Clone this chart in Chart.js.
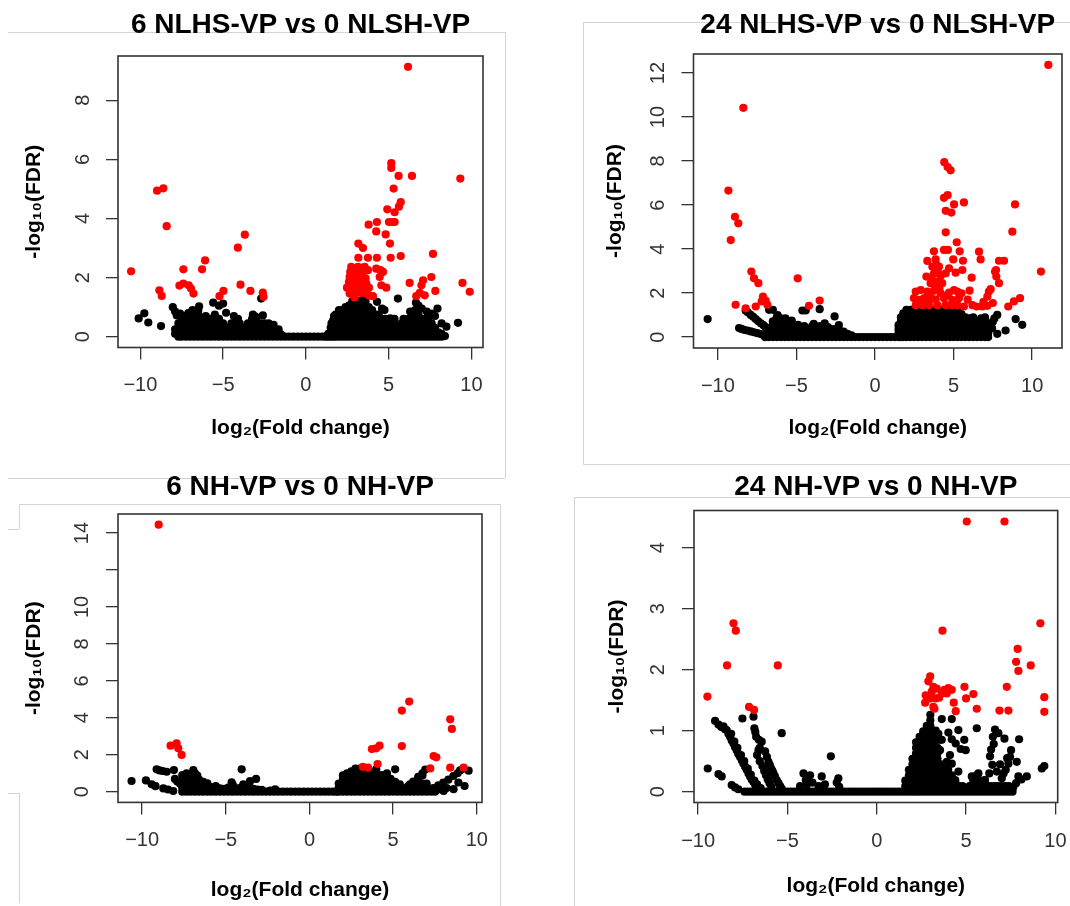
<!DOCTYPE html>
<html><head><meta charset="utf-8">
<script src="https://cdn.jsdelivr.net/npm/chart.js@4.4.1/dist/chart.umd.min.js"></script>
<style>
html,body{margin:0;padding:0;background:#fff;}
body{width:1070px;height:906px;position:relative;overflow:hidden;}
canvas{position:absolute;}
.ln{position:absolute;background:#d4d4d4;}
</style></head><body>
<canvas id="c1" width="535" height="460" style="left:0px;top:0px"></canvas>
<canvas id="c2" width="535" height="460" style="left:535px;top:0px"></canvas>
<canvas id="c3" width="535" height="446" style="left:0px;top:460px"></canvas>
<canvas id="c4" width="535" height="446" style="left:535px;top:460px"></canvas>
<script>
// ---------------- DATA ----------------
const titles = ['6 NLHS-VP vs 0 NLSH-VP', '24 NLHS-VP vs 0 NLSH-VP', '6 NH-VP vs 0 NH-VP', '24 NH-VP vs 0 NH-VP'];
const xAxisTitle = 'log\u2082(Fold change)';
const yAxisTitle = '-log\u2081\u2080(FDR)';
const xTicks = [-10, -5, 0, 5, 10];
const p1YTicks = [0, 2, 4, 6, 8];
const p2YTicks = [0, 2, 4, 6, 8, 10, 12];
const p3YTicks = [0, 2, 4, 6, 8, 10, 12, 14];
const p3YLabels = ['0', '2', '4', '6', '8', '10', '', '14'];
const p4YTicks = [0, 1, 2, 3, 4];

// Panel 1 : 6 NLHS-VP vs 0 NLSH-VP
const p1Red = [[6.17,9.13],[5.16,5.87],[5.16,5.71],[5.6,5.44],[6.41,5.44],[9.33,5.35],[5.3,5.01],[5.73,4.55],[5.62,4.4],[4.92,4.31],[5.36,4.21],[5.02,3.88],[5.22,3.88],[5.36,3.88],[3.79,3.79],[4.29,3.88],[4.25,3.56],[4.82,3.46],[5.08,3.15],[3.17,3.15],[3.45,3.0],[3.17,2.67],[3.75,2.67],[4.29,2.67],[5.12,2.67],[5.73,2.73],[7.68,2.8],
[2.74,2.36],[3.15,2.36],[3.55,2.36],[2.68,2.19],[3.04,2.16],[3.41,2.16],[3.75,2.25],[2.64,2.02],[2.94,2.02],[3.25,1.97],[3.61,1.97],[2.6,1.85],[2.94,1.82],[3.29,1.8],[3.65,1.8],[2.48,1.66],[2.8,1.63],[3.15,1.63],[3.49,1.63],[3.81,1.66],[2.64,1.46],[3.0,1.46],[3.35,1.48],[3.69,1.46],[4.05,1.37],[2.94,1.33],[3.83,1.39],
[4.25,2.3],[4.5,2.25],[4.66,2.19],[4.46,2.02],[4.56,1.74],[4.86,1.66],[6.27,1.82],[7.08,1.91],[6.98,1.74],[7.58,2.02],[7.82,1.55],[6.67,1.37],[6.88,1.48],[7.18,1.4],[9.46,1.82],[9.9,1.52],
[-10.56,2.21],[-8.99,4.94],[-8.61,5.02],[-8.41,3.74],[-8.85,1.57],[-8.71,1.38],[-7.4,2.28],[-7.64,1.73],[-7.4,1.8],[-7.08,1.74],[-6.94,1.63],[-6.79,1.46],[-6.27,2.28],[-6.09,2.58],[-4.11,3.01],[-3.69,3.45],[-3.95,1.76],[-3.35,1.55],[-5.22,1.37],[-4.98,1.55],[-2.6,1.49],[-2.56,1.35]];
const p1Black = [[-10.1,0.62],[-9.76,0.79],[-9.52,0.48],[-8.75,0.36],[-8.04,1.0],[-7.9,0.85],[-7.8,0.72],[-7.6,0.78],[-7.35,0.7],[-7.1,0.8],[-6.85,0.9],[-6.45,1.03],[-6.6,0.85],[-6.05,0.7],[-5.85,0.6],[-5.6,1.15],[-5.25,1.05],[-5.0,1.12],[-4.82,0.81],[-4.35,0.7],[-4.1,0.6],[-3.2,0.75],[-3.05,0.68],[-2.6,0.72],[-2.7,1.29],[-2.25,0.45],[-1.95,0.4],[-1.65,0.25],
[5.56,1.29],[4.3,1.18],[4.6,0.95],[4.75,0.9],[5.1,0.62],[5.35,0.6],[5.9,0.6],[6.3,0.85],[6.65,1.15],[6.8,1.05],[7.0,0.95],[7.3,0.85],[7.6,0.78],[7.95,0.95],[7.8,0.7],[8.2,0.45],[8.49,0.34],[9.19,0.47],[1.55,0.45],[1.7,0.7]];
const p1Cols = [[-7.9,[0.1,0.25]],[-7.7,[0,0.15,0.3,0.45]],[-7.5,[0,0.15,0.3,0.45,0.6]],[-7.25,[0,0.15,0.3,0.45]],[-7.0,[0,0.15,0.3,0.45,0.6]],[-6.75,[0,0.15,0.3,0.45,0.6,0.75]],[-6.5,[0,0.15,0.3,0.45,0.6,0.75,0.9]],[-6.25,[0,0.15,0.3,0.45,0.6]],[-6.0,[0,0.15,0.3,0.45,0.6]],[-5.75,[0,0.15,0.3,0.45]],[-5.5,[0,0.15,0.3,0.45,0.6,0.75]],[-5.25,[0,0.15,0.3,0.45,0.6]],[-5.0,[0,0.15,0.3,0.45]],[-4.75,[0,0.15,0.3]],[-4.5,[0,0.15,0.3,0.45]],[-4.25,[0,0.15,0.3,0.45,0.6]],[-4.0,[0,0.15,0.3,0.45]],[-3.75,[0,0.15,0.3]],[-3.5,[0,0.15,0.3,0.45]],[-3.25,[0,0.15,0.3,0.45,0.6]],[-3.0,[0,0.15,0.3,0.45,0.6]],[-2.75,[0,0.15,0.3,0.45]],[-2.5,[0,0.15,0.3,0.45]],[-2.25,[0,0.15,0.3]],[-2.0,[0,0.15,0.3]],[-1.75,[0,0.15]],[-1.5,[0,0.08]],
[1.35,[0,0.1]],[1.5,[0,0.15,0.3]],[1.65,[0,0.15,0.3,0.45,0.55]],[1.8,[0,0.15,0.3,0.45,0.6,0.75]],[2.0,[0,0.15,0.3,0.45,0.6,0.75,0.9]],[2.2,[0,0.15,0.3,0.45,0.6,0.75,0.9]],[2.4,[0,0.15,0.3,0.45,0.6,0.75,0.9,1.0]],[2.6,[0,0.15,0.3,0.45,0.6,0.75,0.9,1.05]],[2.8,[0,0.15,0.3,0.45,0.6,0.75,0.9,1.05,1.2]],[3.0,[0,0.15,0.3,0.45,0.6,0.75,0.9,1.05,1.2]],[3.2,[0,0.15,0.3,0.45,0.6,0.75,0.9,1.05,1.2]],[3.4,[0,0.15,0.3,0.45,0.6,0.75,0.9,1.05,1.25]],[3.6,[0,0.15,0.3,0.45,0.6,0.75,0.9,1.05,1.2]],[3.8,[0,0.15,0.3,0.45,0.6,0.75,0.9,1.0]],[4.0,[0,0.15,0.3,0.45,0.6,0.75,0.9]],[4.2,[0,0.15,0.3,0.45,0.6,0.75]],[4.4,[0,0.15,0.3,0.45,0.6,0.75]],[4.6,[0,0.15,0.3,0.45,0.6]],[4.8,[0,0.15,0.3,0.45,0.6]],[5.0,[0,0.15,0.3,0.45]],[5.2,[0,0.15,0.3,0.45]],[5.4,[0,0.15,0.3,0.45]],[5.6,[0,0.15,0.3]],[5.8,[0,0.15,0.3,0.45]],[6.0,[0,0.15,0.3,0.45]],[6.2,[0,0.15,0.3,0.45,0.6]],[6.4,[0,0.15,0.3,0.45,0.6,0.75]],[6.6,[0,0.15,0.3,0.45,0.6,0.75,0.9]],[6.8,[0,0.15,0.3,0.45,0.6,0.75]],[7.0,[0,0.15,0.3,0.45,0.6]],[7.2,[0,0.15,0.3,0.45,0.6]],[7.4,[0,0.15,0.3,0.45,0.6]],[7.6,[0,0.15,0.3,0.45]],[7.8,[0,0.15,0.3]],[8.0,[0,0.15]],[8.2,[0,0.1]],[8.4,[0.02]]];
const p1Base = [-1.25,-1.0,-0.75,-0.5,-0.25,0,0.25,0.5,0.75,1.0,1.2];

// Panel 2 : 24 NLHS-VP vs 0 NLSH-VP
const p2Red = [[11.03,12.37],[-8.38,10.42],[-9.33,6.66],[-8.91,5.47],[-8.7,5.17],[-9.18,4.41],[-7.87,2.98],[-7.7,2.67],[-7.42,2.45],[-8.87,1.47],[-8.23,1.31],[-7.59,1.39],[-7.13,1.84],[-6.96,1.66],[-7.21,1.62],[-6.85,1.47],[-4.92,2.67],[-4.2,1.42],[-3.52,1.66],
[4.41,7.95],[4.62,7.73],[4.81,7.58],[4.39,6.33],[4.62,6.45],[5.03,6.03],[5.66,6.12],[4.5,5.74],[4.86,5.66],[4.5,4.76],[5.2,4.31],[3.75,3.9],[4.39,3.96],[4.64,3.96],[5.39,3.9],[3.33,3.46],[3.86,3.53],[4.98,3.53],[5.6,3.47],[3.65,3.2],[4.07,3.2],[4.71,3.13],[5.56,3.05],[3.27,2.75],[3.75,2.87],[4.18,2.78],[4.5,2.9],[5.13,2.93],[3.54,2.45],[3.97,2.52],[4.28,2.45],[5.03,2.14],
[2.59,2.07],[2.91,2.14],[3.33,2.07],[3.75,2.11],[4.18,1.99],[4.71,2.02],[5.24,2.07],[5.51,1.99],[2.48,1.77],[2.8,1.69],[3.12,1.77],[3.44,1.66],[3.86,1.72],[4.39,1.77],[4.92,1.69],[5.34,1.77],[5.66,1.39],[2.59,1.45],[3.01,1.45],[3.44,1.45],[3.97,1.45],[4.5,1.45],[4.92,1.45],[5.24,1.45],
[3.9,3.3],[4.0,2.95],[3.6,2.6],[3.85,2.3],[4.1,2.2],[3.5,1.9],[4.6,1.9],[5.9,1.7],[6.2,1.45],[7.5,1.55],[7.7,3.05],[6.9,1.6],
[6.15,2.7],[6.02,2.11],[6.62,3.88],[6.72,3.53],[7.89,3.47],[8.21,3.47],[7.64,2.98],[7.72,2.75],[7.89,2.45],[7.36,2.18],[7.15,1.84],[7.25,2.07],[6.47,1.39],[6.83,1.39],[7.15,1.42],[8.48,1.39],[8.84,1.62],[9.23,1.77],[8.74,4.79],[8.91,6.03],[10.56,2.98]];
const p2Black = [[-10.65,0.82],[-6.74,1.24],[-6.5,1.24],[-6.2,1.0],[-5.7,0.85],[-4.62,1.21],[-4.41,1.21],[-3.52,1.27],[-4.9,0.56],[-2.57,0.94],[-5.3,0.75],[-3.9,0.6],[-3.2,0.62],[-2.3,0.55],
[-8.23,1.21],[-8.1,1.13],[-7.91,1.01],[-7.75,0.92],[-7.59,0.82],[-7.43,0.72],[-7.27,0.63],[-7.1,0.54],[-6.96,0.45],[-6.8,0.35],[-6.64,0.26],
[-8.65,0.41],[-8.5,0.37],[-8.34,0.33],[-8.12,0.3],[-7.91,0.26],[-7.7,0.22],[-7.49,0.18],[-7.27,0.14],[-7.06,0.11],
[7.5,0.7],[7.78,1.01],[7.6,0.85],[8.95,0.82],[9.37,0.56],[8.31,0.3],[7.78,0.15],[7.45,0.4]];
const p2Cols = [[-7.0,[0,0.1]],[-6.75,[0,0.18,0.3]],[-6.5,[0,0.18,0.36,0.54,0.72]],[-6.25,[0,0.18,0.36,0.54,0.72,0.9]],[-6.0,[0,0.18,0.36,0.54,0.72,0.85]],[-5.75,[0,0.18,0.36,0.54,0.7]],[-5.5,[0,0.18,0.36,0.54,0.65]],[-5.25,[0,0.18,0.36,0.54]],[-5.0,[0,0.18,0.36,0.5]],[-4.75,[0,0.18,0.36]],[-4.5,[0,0.18,0.36,0.5]],[-4.25,[0,0.18,0.36]],[-4.0,[0,0.18,0.36,0.5]],[-3.75,[0,0.18,0.36]],[-3.5,[0,0.18,0.36,0.5]],[-3.25,[0,0.18,0.36]],[-3.0,[0,0.18,0.36,0.45]],[-2.75,[0,0.18,0.36]],[-2.5,[0,0.18,0.36]],[-2.25,[0,0.18,0.3]],[-2.0,[0,0.18,0.25]],[-1.75,[0,0.15]],[-1.5,[0,0.08]],
[1.5,[0,0.18,0.36,0.54]],[1.65,[0,0.18,0.36,0.54,0.72,0.9]],[1.8,[0,0.18,0.36,0.54,0.72,0.9,1.08]],[2.0,[0,0.18,0.36,0.54,0.72,0.9,1.08,1.24]],[2.25,[0,0.18,0.36,0.54,0.72,0.9,1.08,1.24]],[2.5,[0,0.18,0.36,0.54,0.72,0.9,1.08,1.24]],[2.75,[0,0.18,0.36,0.54,0.72,0.9,1.08,1.24]],[3.0,[0,0.18,0.36,0.54,0.72,0.9,1.08,1.24]],[3.25,[0,0.18,0.36,0.54,0.72,0.9,1.08,1.24]],[3.5,[0,0.18,0.36,0.54,0.72,0.9,1.08,1.24]],[3.75,[0,0.18,0.36,0.54,0.72,0.9,1.08,1.24]],[4.0,[0,0.18,0.36,0.54,0.72,0.9,1.08,1.24]],[4.25,[0,0.18,0.36,0.54,0.72,0.9,1.08,1.24]],[4.5,[0,0.18,0.36,0.54,0.72,0.9,1.08,1.24]],[4.75,[0,0.18,0.36,0.54,0.72,0.9,1.08,1.24]],[5.0,[0,0.18,0.36,0.54,0.72,0.9,1.08,1.24]],[5.25,[0,0.18,0.36,0.54,0.72,0.9,1.08,1.2]],[5.5,[0,0.18,0.36,0.54,0.72,0.9,1.05]],[5.75,[0,0.18,0.36,0.54,0.72,0.9]],[6.0,[0,0.18,0.36,0.54,0.72,0.85]],[6.25,[0,0.18,0.36,0.54,0.72,0.9]],[6.5,[0,0.18,0.36,0.54,0.72]],[6.75,[0,0.18,0.36,0.54,0.72,0.85]],[7.0,[0,0.18,0.36,0.54,0.72,0.9]],[7.2,[0,0.18,0.36,0.54]]];
const p2Base = [-1.25,-1.0,-0.75,-0.5,-0.25,0,0.25,0.5,0.75,1.0,1.25];

// Panel 3 : 6 NH-VP vs 0 NH-VP
const p3Red = [[-9.01,14.45],[-8.3,2.49],[-7.94,2.62],[-7.84,2.35],[-7.64,1.99],[3.73,2.31],[3.99,2.35],[4.19,2.49],[4.07,1.5],[5.52,4.39],[5.96,4.88],[5.52,2.47],[7.42,1.93],[7.58,1.86],[8.41,3.92],[8.51,3.4],[7.22,1.26],[8.41,1.3],[9.21,1.3],[3.19,1.35],[3.5,1.3]];
const p3Black = [[-10.63,0.58],[-9.77,0.61],[-9.43,0.4],[-9.2,0.3],[-8.73,0.18],[-8.45,0.12],[-8.14,0.04],[-9.13,1.21],[-8.95,1.15],[-8.77,1.12],[-8.53,1.08],[-8.1,1.17],
[-8.04,0.69],[-7.9,0.55],[-7.74,0.45],[-7.6,0.9],[-7.44,0.36],[-7.34,0.99],[-6.94,1.17],[-6.84,0.99],[-6.7,0.87],[-6.34,0.54],[-6.1,0.45],[-5.94,0.27],[-5.6,0.3],
[-4.65,0.51],[-4.51,0.27],[-4.05,1.21],[-3.95,0.4],[-3.55,0.58],[-3.19,0.69],[-2.05,0.13],
[3.99,1.21],[5.12,1.21],[4.63,0.99],[5.12,0.54],[4.3,0.9],[4.85,0.7],[5.4,0.4],
[5.6,0.1],[5.9,0.3],[6.2,0.55],[6.5,0.8],[6.75,1.0],[6.92,1.2],
[7.4,0.2],[7.7,0.35],[8.0,0.5],[8.3,0.65],[8.6,0.85],[8.85,1.0],[9.0,1.15],[9.2,1.25],
[9.51,1.14],[9.27,0.31],[8.61,0.14],[8.02,0.04],[7.6,0.1],[7.85,0.12],[8.2,0.2],[8.9,0.5]];
const p3Cols = [[-7.6,[0,0.22,0.44,0.66]],[-7.35,[0,0.22,0.44,0.66,0.85]],[-7.1,[0,0.22,0.44,0.66,0.88]],[-6.85,[0,0.22,0.44,0.66]],[-6.6,[0,0.22,0.44,0.66]],[-6.35,[0,0.22,0.44]],[-6.1,[0,0.22,0.35]],[-5.85,[0,0.22]],[-5.6,[0,0.2]],[-5.35,[0,0.18]],[-5.1,[0,0.15]],[-4.85,[0,0.22]],[-4.6,[0,0.2,0.4]],[-4.35,[0,0.15]],[-4.1,[0,0.22]],[-3.85,[0,0.18]],[-3.6,[0,0.22,0.44]],[-3.35,[0,0.15]],[-3.1,[0,0.12]],[-2.85,[0,0.1]],[-2.6,[0]],[-2.35,[0,0.06]],[-2.1,[0]],
[1.75,[0,0.22,0.44]],[2.0,[0,0.22,0.44,0.66,0.88]],[2.25,[0,0.22,0.44,0.66,0.88,1.0]],[2.5,[0,0.22,0.44,0.66,0.88,1.1]],[2.75,[0,0.22,0.44,0.66,0.88,1.1,1.25]],[3.0,[0,0.22,0.44,0.66,0.88,1.1,1.25]],[3.25,[0,0.22,0.44,0.66,0.88,1.1,1.25]],[3.5,[0,0.22,0.44,0.66,0.88,1.1,1.2]],[3.75,[0,0.22,0.44,0.66,0.88,1.0]],[4.0,[0,0.22,0.44,0.66,0.88]],[4.25,[0,0.22,0.44,0.66]],[4.5,[0,0.22,0.44,0.66,0.88]],[4.75,[0,0.22,0.44]],[5.0,[0,0.22,0.44]],[5.25,[0,0.22]],[5.5,[0,0.15]],[5.75,[0,0.2]],[6.0,[0,0.22,0.4]],[6.25,[0,0.22,0.5]],[6.5,[0,0.22,0.44,0.7]],[6.75,[0,0.22,0.44,0.88]],[7.0,[0,0.22,0.44]],[7.25,[0,0.15]],[7.5,[0]]];
const p3Base = [-1.85,-1.6,-1.35,-1.1,-0.85,-0.6,-0.35,-0.1,0.15,0.4,0.65,0.9,1.15,1.4,1.6];

// Panel 4 : 24 NH-VP vs 0 NH-VP
const p4Red = [[5.04,4.43],[7.15,4.43],[-8.02,2.76],[-7.89,2.64],[-8.38,2.07],[-5.54,2.07],[-9.48,1.56],[-7.15,1.39],[-6.87,1.34],[3.68,2.64],[9.16,2.76],[7.89,2.34],[7.8,2.13],[7.93,1.98],[8.62,2.07],[7.28,1.72],[6.87,1.33],[7.37,1.33],[9.38,1.55],[9.38,1.31],[4.91,1.72],[5.0,1.53],[5.41,1.6],[5.6,1.36],[4.31,1.46],[4.42,1.32],
[2.99,1.89],[2.89,1.81],[3.17,1.72],[3.36,1.69],[2.74,1.58],[3.08,1.64],[3.3,1.53],[3.49,1.54],[3.64,1.61],[3.79,1.67],[4.01,1.7],[4.2,1.67],[2.71,1.46],[2.99,1.53],[3.17,1.39],[3.92,1.61],[3.23,1.36]];
const p4Black = [[-9.05,1.16],[-8.86,1.1],[-8.7,1.06],[-8.58,1.07],[-8.48,1.02],[-8.4,1.01],[-8.3,0.95],[-8.21,0.9],[-8.12,0.84],[-8.02,0.79],[-7.93,0.73],[-7.84,0.68],[-7.75,0.62],[-7.65,0.57],[-7.55,0.51],[-7.46,0.46],[-7.37,0.41],[-7.28,0.36],[-7.18,0.3],[-7.09,0.25],[-7.0,0.2],[-6.9,0.16],[-6.8,0.11],[-6.72,0.08],[-6.62,0.04],
[-8.15,0.95],[-7.97,0.82],[-7.8,0.72],[-7.6,0.6],[-7.42,0.5],[-7.22,0.38],[-7.05,0.28],[-6.85,0.18],[-6.7,0.12],[-6.5,0.06],
[-7.52,1.2],[-6.9,1.23],[-6.85,1.04],[-6.8,0.98],[-6.75,0.9],[-6.6,0.85],[-6.44,0.82],[-6.62,0.68],[-6.55,0.72],[-6.25,0.66],[-6.15,0.57],[-6.06,0.49],[-5.98,0.43],[-5.91,0.38],[-5.84,0.34],[-5.78,0.3],[-5.7,0.25],[-5.6,0.19],[-5.5,0.14],[-5.41,0.09],[-5.32,0.05],
[-6.7,0.6],[-6.55,0.5],[-6.4,0.42],[-6.3,0.34],[-6.2,0.27],[-6.1,0.2],[-6.0,0.14],[-5.9,0.08],
[-5.32,0.96],[-9.46,0.38],[-8.86,0.29],[-8.68,0.25],[-8.12,0.11],[-7.93,0.07],[-7.75,0.04],[-4.1,0.3],[-3.73,0.27],[-3.97,0.19],[-3.08,0.25],[-2.57,0.58],[-2.15,0.22],[-2.24,0.15],[-4.29,0.09],[-3.26,0.09],[-3.9,0.12],[-3.6,0.15],[-2.1,0.08],[-2.9,0.12],
[3.64,1.19],[4.2,1.19],[4.01,0.97],[4.57,1.01],[4.2,0.86],[4.42,0.79],[4.98,0.68],[5.6,1.04],[3.64,0.85],[3.54,0.68],[3.92,0.49],[4.2,0.46],[4.57,0.33],[3.82,0.36],[4.38,0.19],[5.32,0.25],[5.69,0.3],[5.5,0.16],[6.06,0.19],
[6.62,1.02],[6.81,0.96],[7.15,0.87],[7.97,0.86],[6.4,0.69],[6.34,0.58],[6.47,0.44],[6.72,0.33],[7.0,0.22],[7.22,0.36],[7.37,0.46],[7.46,0.57],[7.52,0.68],[7.84,0.49],[7.93,0.25],[8.4,0.25],[9.24,0.38],[9.38,0.42],[7.65,0.08],
[3.3,1.0],[3.5,0.85],[3.45,0.95],[4.1,0.6],[4.9,0.85],[4.7,0.7],[6.5,0.9],[6.55,0.78],[6.3,0.3],[6.9,0.45],[7.1,0.3],[7.3,0.55],[8.1,0.2],[7.8,0.14]];
const p4Cols = [[1.6,[0,0.09,0.18]],[1.8,[0,0.09,0.18,0.27,0.36]],[2.0,[0,0.09,0.18,0.27,0.36,0.45,0.54]],[2.2,[0,0.09,0.18,0.27,0.36,0.45,0.54,0.63,0.72,0.81]],[2.4,[0,0.09,0.18,0.27,0.36,0.45,0.54,0.63,0.72,0.81,0.9]],[2.6,[0,0.09,0.18,0.27,0.36,0.45,0.54,0.63,0.72,0.81,0.9,0.99]],[2.8,[0,0.09,0.18,0.27,0.36,0.45,0.54,0.63,0.72,0.81,0.9,0.99,1.08]],[3.0,[0,0.09,0.18,0.27,0.36,0.45,0.54,0.63,0.72,0.81,0.9,0.99,1.08,1.17,1.26]],[3.2,[0,0.09,0.18,0.27,0.36,0.45,0.54,0.63,0.72,0.81,0.9]],[3.4,[0,0.09,0.18,0.27,0.36,0.45,0.54,0.63,0.72]],[3.6,[0,0.09,0.18,0.27,0.36,0.45]],[3.8,[0,0.09,0.18,0.27,0.36]],[4.0,[0,0.09,0.18,0.27,0.36,0.45]],[4.2,[0,0.09,0.18,0.27]],[4.4,[0,0.09,0.18]],[4.6,[0,0.09]],[4.8,[0,0.09]],[5.0,[0]],[5.2,[0,0.09]],[5.4,[0,0.09,0.18]],[5.6,[0,0.09,0.18,0.27]],[5.8,[0,0.09,0.18]],[6.0,[0,0.09,0.18]],[6.2,[0,0.09]],[6.4,[0,0.09]],[6.6,[0,0.09]],[6.8,[0,0.09]],[7.0,[0,0.09]],[7.2,[0,0.09]],[7.4,[0,0.09]],[7.6,[0,0.05]]];
const p4Base = [-7.4,-7.2,-7.0,-6.8,-6.6,-6.4,-6.2,-6.0,-5.8,-5.6,-5.4,-5.2,-5.0,-4.8,-4.6,-4.4,-4.2,-4.0,-3.8,-3.6,-3.4,-3.2,-3.0,-2.8,-2.6,-2.4,-2.2,-2.0,-1.8,-1.6,-1.4,-1.2,-1.0,-0.8,-0.6,-0.4,-0.2,0,0.2,0.4,0.6,0.8,1.0,1.2,1.4];

// ---------------- LAYOUT (not data) ----------------
const FONT = "'Liberation Sans', Arial, Helvetica, sans-serif";
const frameLines = [[8,32,505,32],[505,32,505,478],[8,478,505,478],
  [583,22,1070,22],[583,22,583,464],[583,464,1070,464],
  [19,504,500,504],[500,504,500,906],[19,504,19,529],[8,529,19,529],[8,793,19,793],[19,793,19,903],
  [574,497,1070,497],[574,497,574,906]];
frameLines.forEach(([x1,y1,x2,y2]) => {
  const d = document.createElement('div');
  d.className = 'ln';
  d.style.left = x1 + 'px'; d.style.top = y1 + 'px';
  d.style.width = Math.max(1, x2 - x1) + 'px'; d.style.height = Math.max(1, y2 - y1) + 'px';
  document.body.insertBefore(d, document.body.firstChild);
});

const boxPlugin = {
  id: 'rBox',
  afterDraw(chart) {
    const {ctx, chartArea: a} = chart;
    ctx.save();
    ctx.strokeStyle = '#333';
    ctx.lineWidth = 1.6;
    ctx.strokeRect(a.left, a.top, a.right - a.left, a.bottom - a.top);
    ctx.restore();
  }
};

const fmtX = v => (v < 0 ? '\u2212' + Math.abs(v) : String(v));
const R = 4.1;

function makePanel(id, title, red, black, cols, base, yTicks, yLabels, L) {
  const blackPts = black.map(([x, y]) => ({x, y}))
    .concat(cols.flatMap(([x, ys]) => ys.map(y => ({x, y}))))
    .concat(base.map(x => ({x, y: 0})));
  const redPts = red.map(([x, y]) => ({x, y}));
  return new Chart(document.getElementById(id), {
    type: 'scatter',
    data: {datasets: [
      {label: 'FDR significant', data: redPts, backgroundColor: '#ff0000', pointRadius: R, pointBorderWidth: 0, pointHoverRadius: R, order: 0},
      {label: 'not significant', data: blackPts, backgroundColor: '#000000', pointRadius: R, pointBorderWidth: 0, pointHoverRadius: R, order: 1}
    ]},
    options: {
      responsive: false, animation: false, devicePixelRatio: 1, events: [],
      layout: {padding: {left: L.padL, right: L.padR, top: 0, bottom: L.padB}},
      plugins: {
        legend: {display: false}, tooltip: {enabled: false},
        title: {display: true, text: title, fullSize: false, color: '#000',
          font: {family: FONT, size: 28, weight: 'bold', lineHeight: 1.2},
          padding: {top: L.tTop, bottom: L.tBot}}
      },
      scales: {
        x: {
          type: 'linear', position: 'bottom', min: L.xMin, max: L.xMax, bounds: 'data',
          afterBuildTicks: s => { s.ticks = xTicks.map(v => ({value: v})); },
          afterFit: s => { s.height = 100; s.paddingLeft = 0; s.paddingRight = 0; },
          ticks: {autoSkip: false, minRotation: 0, maxRotation: 0, padding: L.xTickPad, color: '#333',
            font: {family: FONT, size: 20, lineHeight: 1.2}, callback: v => fmtX(v)},
          grid: {drawOnChartArea: false, drawTicks: true, tickLength: 12, color: '#333', lineWidth: 1.3},
          border: {display: false},
          title: {display: true, text: xAxisTitle, color: '#000',
            font: {family: FONT, size: 21, weight: 'bold', lineHeight: 1.2}, padding: {top: 0, bottom: L.xTitlePad}}
        },
        y: {
          type: 'linear', position: 'left', min: L.yMin, max: L.yMax, bounds: 'data',
          afterBuildTicks: s => { s.ticks = yTicks.map(v => ({value: v})); },
          afterFit: s => { s.width = L.yW; s.paddingTop = 0; s.paddingBottom = 0; },
          ticks: {autoSkip: false, minRotation: 90, maxRotation: 90, crossAlign: 'center', padding: L.yTickPad, color: '#333',
            font: {family: FONT, size: 20, lineHeight: 1.2}, callback: (v, i) => yLabels[i]},
          grid: {drawOnChartArea: false, drawTicks: true, tickLength: 12, color: '#333', lineWidth: 1.3},
          border: {display: false},
          title: {display: true, text: yAxisTitle, color: '#000',
            font: {family: FONT, size: 21, weight: 'bold', lineHeight: 1.2}, padding: {top: L.yTitlePad, bottom: 0}}
        }
      }
    },
    plugins: [boxPlugin]
  });
}

makePanel('c1', titles[0], p1Red, p1Black, p1Cols, p1Base, p1YTicks, p1YTicks.map(String),
  {padL: 10, padR: 52, padB: 12.5, yW: 108, tTop: 8.2, tBot: 14.2, xTickPad: 13.5, xTitlePad: 6.9, yTickPad: 17.4, yTitlePad: 11.4,
   xMin: -11.35, xMax: 10.7, yMin: -0.365, yMax: 9.495});
makePanel('c2', titles[1], p2Red, p2Black, p2Cols, p2Base, p2YTicks, p2YTicks.map(String),
  {padL: 50, padR: 8, padB: 12, yW: 108.5, tTop: 8.2, tBot: 12.2, xTickPad: 14.7, xTitlePad: 7.4, yTickPad: 11.6, yTitlePad: 17.6,
   xMin: -11.55, xMax: 11.9, yMin: -0.495, yMax: 12.865});
makePanel('c3', titles[2], p3Red, p3Black, p3Cols, p3Base, p3YTicks, p3YLabels,
  {padL: 10, padR: 53, padB: 3.6, yW: 108, tTop: 10.2, tBot: 10.2, xTickPad: 13.6, xTitlePad: 0, yTickPad: 11.9, yTitlePad: 11.4,
   xMin: -11.44, xMax: 10.31, yMin: -0.578, yMax: 15.03});
makePanel('c4', titles[3], p4Red, p4Black, p4Cols, p4Base, p4YTicks, p4YTicks.map(String),
  {padL: 50, padR: 12.3, padB: 3.5, yW: 109, tTop: 10.2, tBot: 6.7, xTickPad: 14.5, xTitlePad: 3.2, yTickPad: 17.6, yTitlePad: 19.3,
   xMin: -10.23, xMax: 10.13, yMin: -0.177, yMax: 4.61});
</script>
</body></html>
